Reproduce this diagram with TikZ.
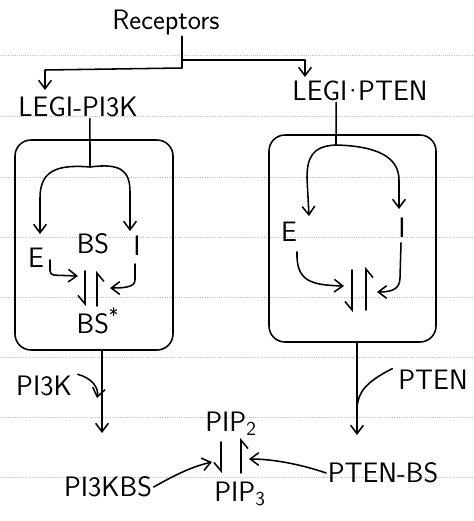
\documentclass[tikz,border=0pt]{standalone}
\usetikzlibrary{arrows.meta,positioning,calc}

\begin{document}
\begin{tikzpicture}[x=0.025cm, y=-0.025cm,
    ink/.style={line width=1.1pt, line cap=round, line join=round},
    arr/.style={ink, -{Straight Barb[length=6pt, width=9pt]}},
    harp/.style={ink, -{Straight Barb[right, length=6pt, width=10pt]}},
    lbl/.style={font=\sffamily\fontsize{20}{24}\selectfont, inner sep=1pt},
    module/.style={ink, rounded corners=0.4cm}]

    \useasboundingbox (0,0) rectangle (474,521);

    % ruled notebook lines
    \foreach \y in {55,116,177,237,297,357,417,477}{
      \draw[gray!50, densely dotted, line width=0.5pt] (0,\y) -- (474,\y);
    }

    % Labels
    \node[lbl] (rec)  at (166,22)  {Receptors};
    \node[lbl] (lpi)  at (78,107)  {LEGI-PI3K};
    \node[lbl] (lpt)  at (360,91)  {LEGI\kern-3.5pt\textperiodcentered\kern-3.5pt PTEN};

    % Left module: E, BS, I, BS*
    \draw[module] (15,140) rectangle (173,350);
    \node[lbl] (eL)  at (36,258)  {E};
    \node[lbl] (bsL) at (93,244)  {BS};
    \node[lbl] (iL)  at (137,246) {I};
    \node[lbl] (bss) at (98,321)  {BS\textsuperscript{*}};

    % Right module: E, I
    \draw[module] (269,135) rectangle (436,342);
    \node[lbl] (eR)  at (289,232) {E};
    \node[lbl] (iR)  at (402,228) {I};

    % Bottom reaction
    \node[lbl] (pik)  at (44,386)  {PI3K};
    \node[lbl] (ptn)  at (433,380) {PTEN};
    \node[lbl] (pip2) at (231,424) {PIP\textsubscript{2}};
    \node[lbl] (pip3) at (240,494) {PIP\textsubscript{3}};
    \node[lbl] (pibs) at (108,487) {PI3KBS};
    \node[lbl] (ptbs) at (383,473) {PTEN-BS};

    % Receptors fork
    \coordinate (fork)  at (182,68);
    \coordinate (forkR) at (182,60);
    \coordinate (tipL)  at (45,90);
    \coordinate (tipR)  at (305,77);
    \draw[ink] (rec.south -| fork) -- (fork);
    \draw[arr] (fork) -- (45,70) -- (tipL);
    \draw[arr] (forkR) -- (305,60) -- (tipR);

    % Left module wiring
    \coordinate (splitL) at (90,167);
    \draw[ink] ([xshift=8.5pt]lpi.south) -- (splitL);
    \draw[arr] (splitL) .. controls (55,164) and (40,172) .. (40,198) -- (40,234);
    \draw[arr] (splitL) .. controls (120,163) and (130,170) .. (130,192) -- (130,231);
    \draw[arr, rounded corners=3pt] (50,260) -- (50,275) -- (78,276);
    \draw[arr] (135,264) -- (135,280) .. controls (135,287) and (125,288) .. (110,288);
    \draw[harp] (85,271) -- (85,306);
    \draw[harp] (97,306) -- (97,271);

    % Right module wiring
    \coordinate (splitR) at (336,145);
    \draw[ink] ([xshift=-17pt]lpt.south) -- (splitR);
    \draw[arr] (splitR) .. controls (312,146) and (307,158) .. (307,178) -- (309,216);
    \draw[arr] (splitR) .. controls (375,146) and (399,156) .. (399,180) -- (399,209);
    \draw[arr] (297,252) .. controls (296,282) and (312,285) .. (344,286);
    \draw[arr] (401,243) -- (400,278) .. controls (400,290) and (390,292) .. (377,292);
    \draw[harp] (352,270) -- (352,312);
    \draw[harp] (366,310) -- (366,267);

    % Module outputs
    \coordinate (outL) at (102,433);
    \coordinate (outR) at (357,435);
    \draw[arr] (102,350) -- (outL);
    \draw[arr] (357,342) -- (outR);
    \draw[arr] ([xshift=3pt]pik.north east) .. controls (92,378) and (99,388) .. (97,398);
    \draw[ink] ([xshift=-3pt]ptn.north west) .. controls (366,382) and (358,392) .. (357,408);

    % PIP2 <-> PIP3
    \draw[harp] (221,442) -- (221,473);
    \draw[harp] (241,473) -- (241,438);
    \draw[arr] (pibs.east) .. controls (180,472) and (195,466) .. (212,462);
    \draw[arr] (ptbs.west) .. controls (300,464) and (272,459) .. (249,459);
\end{tikzpicture}
\end{document}
